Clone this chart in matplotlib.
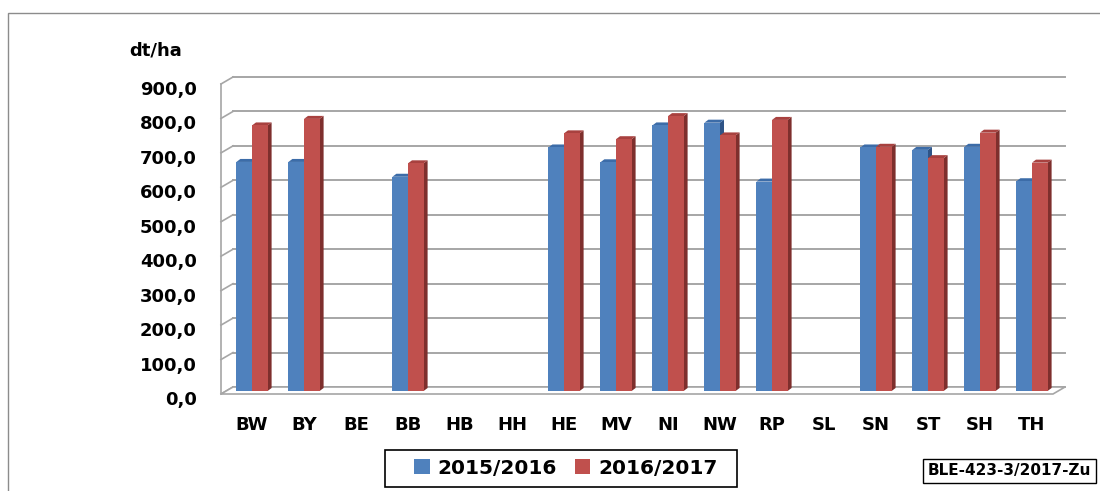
import numpy as np
import matplotlib
matplotlib.use("Agg")
import matplotlib.pyplot as plt
import matplotlib.transforms as mtransforms
from matplotlib.patches import Polygon, Rectangle

# data (dt/ha), NaN = no value
laender = ["BW", "BY", "BE", "BB", "HB", "HH", "HE", "MV",
           "NI", "NW", "RP", "SL", "SN", "ST", "SH", "TH"]
ertrag_2015_16 = [665, 665, np.nan, 622, np.nan, np.nan, 707, 664,
                  771, 779, 608, np.nan, 707, 700, 709, 609]
ertrag_2016_17 = [771, 790, np.nan, 661, np.nan, np.nan, 748, 731,
                  798, 742, 787, np.nan, 709, 676, 750, 663]
serien = ["2015/2016", "2016/2017"]
y_ticks = np.arange(0, 901, 100)

W, H = 1100, 491
fig = plt.figure(figsize=(W / 100, H / 100), dpi=100)

# bar plane in pixels
left, right, y0, y900 = 226, 1058, 391, 81
ax = fig.add_axes([left / W, (H - y0) / H, (right - left) / W, (y0 - y900) / H])
ax.set_xlim(-0.5, len(laender) - 0.5)
ax.set_ylim(0, 900)
ax.set_facecolor("none")
for s in ax.spines.values():
    s.set_visible(False)

# pixel -> data units
cx = (len(laender)) / (right - left)
cy = 900 / (y0 - y900)
bx, by = 7 * cx, 4 * cy      # back wall offset
fx, fy = -5 * cx, -3 * cy    # front edge offset
grid_c = "#a6a6a6"

# back wall gridlines + left wall
x_l, x_r = -0.5, len(laender) - 0.5
for v in y_ticks:
    ax.plot([x_l + bx, x_r + bx], [v + by, v + by], color=grid_c, lw=1.4,
            clip_on=False, zorder=1)
    ax.plot([x_l + fx, x_l + bx], [v + fy, v + by], color=grid_c, lw=1.2,
            clip_on=False, zorder=1)
ax.plot([x_l + fx, x_l + fx], [fy, 900 + fy], color=grid_c, lw=1.2,
        clip_on=False, zorder=1)
# floor
floor = Polygon([(x_l + fx, fy), (x_l + bx, by), (x_r + bx, by), (x_r + fx, fy)],
                closed=True, facecolor="white", edgecolor=grid_c, lw=1.2,
                clip_on=False, zorder=1.5)
ax.add_patch(floor)

# bars with fake 3D sides/tops
w = 0.30
dxs, dys = 4 * cx, 3 * cy
x = np.arange(len(laender))
farben = [("#4f81bd", "#2f5487", "#3c6ca8"), ("#c0504d", "#7e2f2d", "#a8413f")]
handles = []
for k, (werte, name) in enumerate(zip([ertrag_2015_16, ertrag_2016_17], serien)):
    front, side, top = farben[k]
    xs = x - w / 2 if k == 0 else x + w / 2
    z = 2 + k
    b = ax.bar(xs, werte, w, color=front, label=name, zorder=z + 0.2,
               linewidth=0)
    handles.append(b)
    for xi, v in zip(xs, werte):
        if np.isnan(v):
            continue
        xr, xl2 = xi + w / 2, xi - w / 2
        ax.add_patch(Polygon([(xr, 0), (xr + dxs, dys), (xr + dxs, v + dys), (xr, v)],
                             closed=True, facecolor=side, lw=0, zorder=z))
        ax.add_patch(Polygon([(xl2, v), (xl2 + dxs, v + dys), (xr + dxs, v + dys), (xr, v)],
                             closed=True, facecolor=top, lw=0, zorder=z))

# ticks
ax.set_xticks(x)
ax.set_xticklabels(laender, fontsize=13, fontweight="bold")
ax.set_yticks(y_ticks)
ax.set_yticklabels([f"{v:.1f}".replace(".", ",") for v in y_ticks],
                   fontsize=13, fontweight="bold")
ax.tick_params(axis="both", length=0)
ax.tick_params(axis="x", pad=18)
ax.tick_params(axis="y", pad=21)
off = mtransforms.ScaledTranslation(0, -7 / 100, fig.dpi_scale_trans)
for lbl in ax.get_yticklabels():
    lbl.set_transform(lbl.get_transform() + off)

fig.text(156 / W, 1 - 50 / H, "dt/ha", fontsize=13, fontweight="bold",
         ha="center", va="center")

# legend (frame drawn separately)
leg = fig.legend(handles=handles, loc="center", bbox_to_anchor=(566 / W, 1 - 468 / H),
                 ncol=2, frameon=False, prop={"weight": "bold", "size": 14.5},
                 handlelength=0.75, handleheight=0.75, handletextpad=0.4,
                 columnspacing=0.9, borderpad=0, borderaxespad=0)
fig.patches.append(Rectangle((385 / W, 1 - 487 / H), 352 / W, 37 / H, fill=False,
                             edgecolor="black", lw=1.2, transform=fig.transFigure))

fig.text(928 / W, 1 - 471 / H, "BLE-423-3/2017-Zu", fontsize=11, fontweight="bold",
         ha="left", va="center",
         bbox=dict(boxstyle="square,pad=0.3", facecolor="white", edgecolor="black", lw=1))

# chart area border
fig.patches.append(Rectangle((8 / W, -0.1), 1.2, (H - 13) / H + 0.1, fill=False,
                             edgecolor="#8c8c8c", lw=1, transform=fig.transFigure))

fig.savefig("out.png", dpi=100)
